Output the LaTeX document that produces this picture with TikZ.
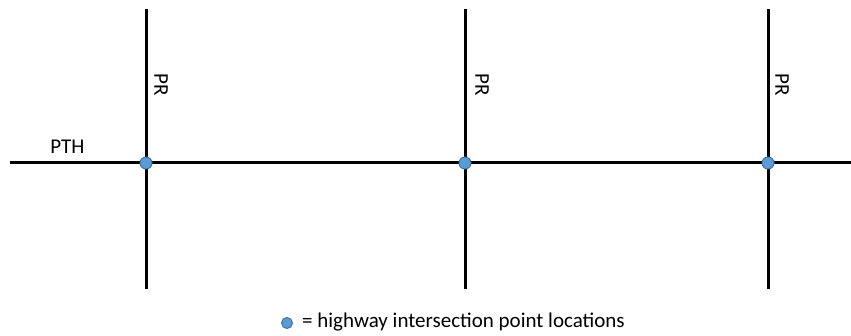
\documentclass[tikz,border=0pt]{standalone}
\usepackage{fontspec}
\setmainfont{Carlito}
\definecolor{dotfill}{HTML}{5B9BD5}
\definecolor{dotdraw}{HTML}{41719C}
\begin{document}
\begin{tikzpicture}[x=1pt,y=-1pt,
  road/.style={line width=3pt,black},
  ipt/.style={circle,fill=dotfill,draw=dotdraw,line width=1pt,minimum size=12pt,inner sep=0pt},
  lbl/.style={font=\fontsize{21}{24}\selectfont,inner sep=0pt}]
\useasboundingbox (0,0) rectangle (851,336);
\coordinate (hL) at (10,163);
\coordinate (hR) at (851,163);
\coordinate (v1t) at (146,9);
\coordinate (v1b) at (146,289);
\coordinate (v2t) at (465,9);
\coordinate (v2b) at (465,289);
\coordinate (v3t) at (768,9);
\coordinate (v3b) at (768,289);
\draw[road] (hL) -- (hR);
\draw[road] (v1t) -- (v1b);
\draw[road] (v2t) -- (v2b);
\draw[road] (v3t) -- (v3b);
\node[ipt] (p1) at (146,163) {};
\node[ipt] (p2) at (465,163) {};
\node[ipt] (p3) at (768,163) {};
\node[lbl,rotate=-90] (pr1) at (161,85) {PR};
\node[lbl,rotate=-90] (pr2) at (482,85) {PR};
\node[lbl,rotate=-90] (pr3) at (782,85) {PR};
\node[lbl] (pth) at (67.5,147) {PTH};
\node[ipt,minimum size=11pt] (leg) at (287,323) {};
\node[lbl,anchor=west] (legt) at (302,322) {= highway intersection point locations};
\end{tikzpicture}
\end{document}
